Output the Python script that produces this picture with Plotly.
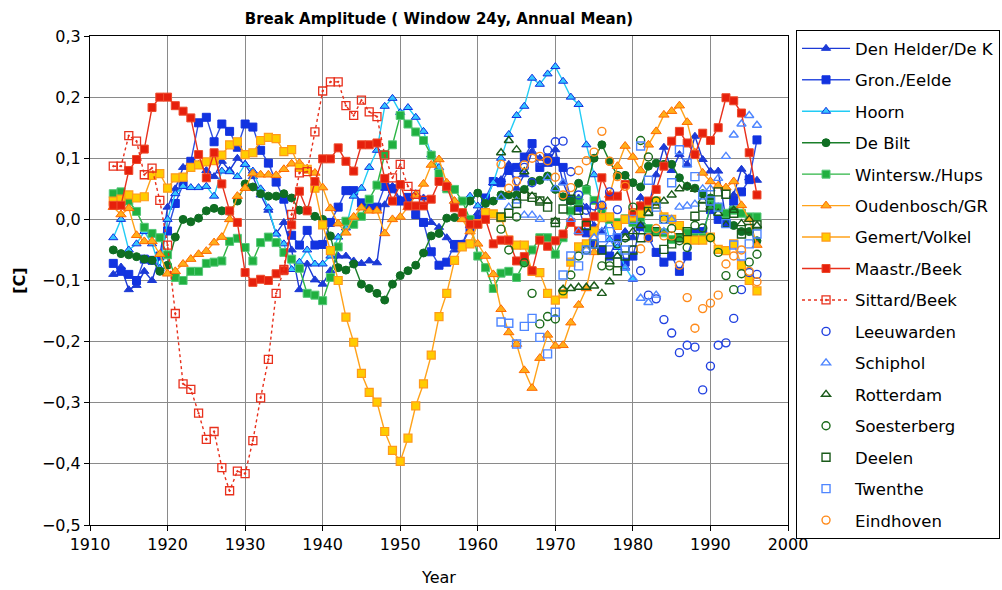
import plotly.graph_objects as go

# ---------------- data ----------------
den_helder_start = 1913
den_helder = [
    -0.09, -0.078, -0.115, -0.108, -0.085, -0.1, -0.06,
    0.02, 0.05, 0.085, 0.093, 0.09, 0.08, 0.07, 0.095, 0.08, 0.1,
    0.09, 0.07, 0.04, 0.015, -0.023, -0.005, -0.05, -0.115, -0.073, -0.099,
    -0.106, -0.084, -0.06, -0.06, -0.068, -0.072, -0.068, -0.071, 0.024, 0.054,
    0.033, 0.035, 0.042, 0.035, -0.005, -0.013, -0.03, -0.05, -0.04, -0.01,
    0.01, 0.03, 0.06, 0.065, 0.09, 0.051, 0.073, 0.111, 0.1, 0.09,
    0.114, 0.06, 0.03, 0.035, 0.02, -0.01, -0.02, 0.0, -0.03, -0.02,
    -0.03, 0.036, 0.02, 0.073, 0.118, 0.08, 0.106, 0.09, 0.136, 0.098,
    0.079, 0.079, 0.0, 0.04, 0.082, 0.068, 0.064,
]

gron_start = 1913
gron = [
    -0.072, -0.085, -0.09, -0.1, -0.065, -0.067, -0.06,
    -0.019, 0.026, 0.057, 0.095, 0.158, 0.167, 0.127, 0.156, 0.144, 0.118,
    0.156, 0.151, 0.113, 0.092, 0.061, 0.033, -0.026, -0.042, -0.018, -0.042,
    -0.041, -0.005, 0.02, 0.047, 0.047, 0.027, 0.019, 0.02, 0.054, 0.05,
    0.03, 0.036, 0.008, -0.005, -0.053, -0.075, -0.07, -0.041, -0.041, -0.015,
    0.0, 0.035, 0.062, 0.06, 0.08, 0.085, 0.102, 0.124, 0.085, 0.1,
    0.095, 0.085, 0.031, 0.02, -0.022, -0.04, -0.05, -0.06, -0.03, -0.07,
    -0.06, -0.012, -0.03, -0.054, -0.07, -0.06, -0.085, -0.06, -0.022, -0.02,
    0.016, 0.0, -0.005, 0.03, 0.045, 0.065, 0.13,
]

hoorn_start = 1913
hoorn = [
    -0.03, 0.0, -0.05, -0.04, -0.02, -0.04, -0.08,
    0.0, 0.042, 0.054, 0.052, 0.052, 0.054, 0.038, 0.079, 0.078, 0.07,
    0.09, 0.079, 0.05, 0.019, -0.024, -0.04, -0.082, -0.07, -0.05, -0.073,
    -0.073, -0.06, -0.029, -0.014, 0.038, 0.051, 0.085, 0.113, 0.185, 0.198,
    0.175, 0.183, 0.167, 0.144, 0.106, 0.085, 0.05, 0.03, 0.03, 0.038,
    0.022, 0.03, 0.06, 0.1, 0.139, 0.17, 0.185, 0.231, 0.221, 0.238,
    0.25, 0.226, 0.2, 0.188, 0.122, 0.073, 0.02, -0.033, -0.046, -0.078,
    -0.098,
]

de_bilt_start = 1913
de_bilt = [
    -0.05, -0.056, -0.058, -0.061, -0.065, -0.067, -0.085,
    -0.075, -0.029, 0.0, -0.004, 0.002, 0.014, 0.018, 0.014, 0.013, 0.03,
    0.058, 0.053, 0.042, 0.038, 0.038, 0.042, 0.035, 0.015, 0.015, 0.005,
    0.0, -0.027, -0.079, -0.083, -0.073, -0.106, -0.113, -0.121, -0.132, -0.106,
    -0.092, -0.084, -0.075, -0.055, -0.027, -0.023, 0.002, 0.003, 0.01, 0.03,
    0.043, 0.026, 0.03, 0.04, 0.04, 0.04, 0.049, 0.062, 0.064, 0.071,
    0.049, 0.037, 0.03, 0.059, 0.05, 0.1, 0.122, 0.095, 0.072, 0.072,
    0.06, 0.053, 0.087, 0.092, 0.09, 0.09, 0.068, 0.054, 0.051, 0.042,
    0.035, 0.02, 0.005, -0.01, -0.02, -0.02, -0.035,
]

wintersw_start = 1913
wintersw = [
    0.042, 0.045, 0.03, 0.013, -0.013, -0.023, -0.03,
    -0.058, -0.095, -0.1, -0.085, -0.085, -0.072, -0.07, -0.068, -0.036, -0.031,
    -0.046, -0.068, -0.038, -0.029, -0.038, -0.054, -0.065, -0.08, -0.121, -0.124,
    -0.133, -0.095, -0.045, -0.003, -0.008, 0.005, 0.033, 0.056, 0.106, 0.122,
    0.17, 0.156, 0.143, 0.129, 0.105, 0.075, 0.05, 0.049, 0.03, 0.0,
    -0.06, -0.079, -0.113, -0.088, -0.085, -0.095, -0.07, -0.05, -0.03, -0.03,
    -0.057, -0.03, 0.014, 0.03, 0.048, 0.031, 0.01, 0.0, -0.005, 0.001,
    -0.005, 0.003, -0.015, -0.02, -0.022, -0.033, -0.03, -0.022, -0.03, -0.03,
    0.024, 0.019, 0.01, 0.015, 0.01, 0.004, 0.004,
]

oudenbosch_start = 1913
oudenbosch = [
    0.02, 0.008, 0.018, -0.026, -0.036, -0.036, -0.057,
    -0.089, -0.085, -0.073, -0.065, -0.057, -0.052, -0.038, -0.029, 0.0, 0.038,
    0.051, 0.075, 0.073, 0.073, 0.072, 0.082, 0.091, 0.092, 0.083, 0.076,
    0.052, 0.018, -0.007, -0.022, 0.004, 0.019, 0.014, 0.014, -0.023, 0.0,
    0.004, 0.02, 0.04, 0.058, 0.089, 0.098, 0.06, 0.03, 0.0, -0.02,
    -0.04, -0.06, -0.09, -0.147, -0.185, -0.204, -0.247, -0.276, -0.227, -0.189,
    -0.207, -0.206, -0.169, -0.14, -0.113, -0.054, 0.022, 0.04, 0.087, 0.12,
    0.102, 0.08, 0.122, 0.144, 0.171, 0.177, 0.186, 0.159, 0.109, 0.076,
    0.062, 0.055, 0.052, 0.062, 0.023, 0.0, -0.042,
]

gemert_start = 1913
gemert = [
    0.03, 0.033, 0.04, 0.035, 0.037, 0.072, 0.075,
    0.051, 0.068, 0.069, 0.085, 0.089, 0.094, 0.096, 0.105, 0.122, 0.127,
    0.106, 0.109, 0.129, 0.134, 0.132, 0.111, 0.114, 0.085, 0.082, 0.051,
    -0.009, -0.051, -0.1, -0.16, -0.201, -0.252, -0.283, -0.299, -0.347, -0.378,
    -0.396, -0.358, -0.305, -0.269, -0.222, -0.159, -0.121, -0.067, -0.045, -0.04,
    -0.007, 0.011, 0.009, 0.003, -0.034, -0.042, -0.042, -0.085, -0.087, -0.121,
    -0.132, -0.122, -0.07, -0.045, -0.04, -0.019, 0.003, 0.004, -0.01, 0.0,
    0.004, 0.01, 0.02, 0.03, 0.004, 0.0, -0.01, -0.033, -0.034, -0.034,
    -0.029, -0.049, -0.051, -0.04, -0.075, -0.1, -0.117,
]

maastr_start = 1913
maastr = [
    0.023, 0.023, 0.08, 0.098, 0.115, 0.183, 0.2,
    0.2, 0.186, 0.177, 0.166, 0.106, 0.068, 0.109, 0.058, 0.014, -0.005,
    -0.087, -0.103, -0.098, -0.1, -0.089, -0.084, -0.009, 0.046, 0.014, 0.062,
    0.099, 0.099, 0.117, 0.095, 0.079, 0.122, 0.122, 0.125, 0.067, 0.03,
    0.057, 0.022, 0.022, 0.022, 0.033, 0.062, 0.054, 0.019, 0.011, -0.008,
    -0.008, 0.0, -0.04, -0.034, -0.034, -0.068, -0.061, -0.084, -0.034, -0.044,
    -0.035, -0.024, -0.005, -0.019, -0.005, 0.005, 0.068, 0.038, 0.038, 0.057,
    0.011, 0.022, 0.03, 0.049, 0.087, 0.128, 0.144, 0.125, 0.106, 0.141,
    0.129, 0.15, 0.199, 0.194, 0.174, 0.109, 0.04,
]

sittard_start = 1913
sittard = [
    0.087, 0.087, 0.137, 0.128, 0.073, 0.084, 0.031,
    -0.042, -0.154, -0.269, -0.278, -0.317, -0.36, -0.347, -0.406, -0.444, -0.412,
    -0.416, -0.362, -0.292, -0.229, -0.121, -0.082, 0.008, 0.076, 0.078, 0.143,
    0.21, 0.225, 0.225, 0.186, 0.17, 0.195, 0.176, 0.168, 0.105, 0.068,
    0.09, 0.054, 0.041, 0.031,
]

leeuwarden_start = 1965
leeuwarden = [
    0.075, 0.085, 0.06, 0.095, 0.113,
    0.127, 0.128, 0.078, 0.04, 0.015, 0.022, 0.023, 0.045, 0.016, -0.03,
    -0.05, -0.084, -0.124, -0.13, -0.164, -0.186, -0.218, -0.206, -0.209, -0.279,
    -0.24, -0.206, -0.202, -0.162, -0.115, -0.087, -0.09,
]

schiphol_start = 1963
schiphol = [
    0.036, 0.02, 0.03, 0.007, 0.007, 0.0, 0.068,
    0.05, 0.06, 0.0, -0.02, -0.05, -0.03, -0.02, -0.04, -0.06, -0.08,
    -0.097, -0.129, -0.136, -0.124, -0.02, 0.0, 0.02, 0.022, 0.025, 0.05,
    0.05, 0.067, 0.103, 0.138, 0.156, 0.17, 0.154,
]

rotterdam_start = 1963
rotterdam = [
    0.109, 0.129, 0.114, 0.078, 0.038, 0.03, 0.03,
    -0.003, -0.114, -0.113, -0.111, -0.111, -0.109, -0.121, -0.102, -0.06, -0.03,
    -0.02, -0.01, 0.01, 0.022, 0.03, 0.04, 0.05, 0.054, 0.049, 0.031,
    0.02, 0.01, -0.009, 0.015, -0.007, 0.0, -0.01,
]

soesterberg_start = 1963
soesterberg = [
    -0.016, -0.05, 0.004, -0.071, -0.121, -0.171, -0.159,
    -0.163, -0.117, -0.091, -0.06, -0.05, -0.04, -0.076, -0.076, -0.04, -0.03,
    0.02, 0.129, 0.102, 0.03, 0.0, -0.015, -0.035, -0.046, -0.01, -0.014,
    -0.03, -0.054, -0.092, -0.115, -0.089, -0.07, -0.057,
]

deelen_start = 1963
deelen = [
    0.004, 0.01, 0.026, 0.038, 0.036, 0.03, 0.02,
    -0.005, 0.017, 0.033, 0.015, -0.01, -0.04, -0.05, -0.07, -0.084, -0.06,
    -0.05, -0.03, 0.013, -0.02, -0.049, -0.04, -0.03, -0.02, 0.005, 0.02,
    0.03, 0.045, 0.041, 0.01, -0.024, -0.015, -0.009,
]

twenthe_start = 1963
twenthe = [
    -0.168, -0.17, -0.204, -0.175, -0.162, -0.193, -0.22,
    -0.152, -0.091, -0.06, -0.076, -0.05, -0.04, -0.03, -0.02, -0.03, -0.05,
    0.0, 0.12, 0.064, 0.02, 0.0, 0.06, 0.114, 0.092, 0.07, 0.04,
    0.03, 0.02, -0.007, -0.042, -0.06, -0.04, -0.024,
]

eindhoven_start = 1963
eindhoven = [
    0.09, 0.051, 0.062, 0.089, 0.1, 0.103, 0.096,
    0.069, 0.04, 0.052, 0.08, 0.096, 0.11, 0.144, 0.095, 0.07, 0.054,
    0.01, -0.048, -0.03, -0.015, -0.027, -0.027, -0.075, -0.128, -0.178, -0.146,
    -0.137, -0.124, -0.073, -0.06, -0.05, -0.085, -0.102,
]

x_ticks = [1910, 1920, 1930, 1940, 1950, 1960, 1970, 1980, 1990, 2000]
y_ticks = [-0.5, -0.4, -0.3, -0.2, -0.1, 0.0, 0.1, 0.2, 0.3]

# ---------------- styles ----------------
FONT = "DejaVu Sans"

line_series = [
    ("Den Helder/De K", den_helder_start, den_helder, "#1c3ad6", "solid",
     dict(symbol="triangle-up", size=8, color="#1c3ad6", line=dict(color="#1c3ad6", width=1))),
    ("Gron./Eelde", gron_start, gron, "#2f4fe0", "solid",
     dict(symbol="square", size=8, color="#1233e0", line=dict(color="#1233e0", width=1))),
    ("Hoorn", hoorn_start, hoorn, "#22ccf5", "solid",
     dict(symbol="triangle-up", size=8, color="#35c6ff", line=dict(color="#1030e0", width=1))),
    ("De Bilt", de_bilt_start, de_bilt, "#1a7f2a", "solid",
     dict(symbol="circle", size=8, color="#0f6e22", line=dict(color="#0f6e22", width=1))),
    ("Wintersw./Hups", wintersw_start, wintersw, "#2cb544", "solid",
     dict(symbol="square", size=8, color="#20b040", line=dict(color="#55c878", width=1))),
    ("Oudenbosch/GR", oudenbosch_start, oudenbosch, "#ffa21a", "solid",
     dict(symbol="triangle-up", size=9, color="#ffae1a", line=dict(color="#ff6a00", width=1))),
    ("Gemert/Volkel", gemert_start, gemert, "#ffa21a", "solid",
     dict(symbol="square", size=8, color="#ffcc00", line=dict(color="#ff9a1a", width=1.2))),
    ("Maastr./Beek", maastr_start, maastr, "#e8301c", "solid",
     dict(symbol="square", size=8, color="#e6200c", line=dict(color="#ee4a2a", width=1))),
    ("Sittard/Beek", sittard_start, sittard, "#e8301c", "dot",
     dict(symbol="square-open-dot", size=8, color="#e8301c", line=dict(color="#e8301c", width=1.3))),
]

point_series = [
    ("Leeuwarden", leeuwarden_start, leeuwarden, "circle-open", "#2040e0"),
    ("Schiphol", schiphol_start, schiphol, "triangle-up-open", "#4f86ff"),
    ("Rotterdam", rotterdam_start, rotterdam, "triangle-up-open", "#1a5a1a"),
    ("Soesterberg", soesterberg_start, soesterberg, "circle-open", "#1a6a1a"),
    ("Deelen", deelen_start, deelen, "square-open", "#1a5a1a"),
    ("Twenthe", twenthe_start, twenthe, "square-open", "#4f86ff"),
    ("Eindhoven", eindhoven_start, eindhoven, "circle-open", "#ff8a1a"),
]

fig = go.Figure()

for i, (name, start, vals, lcolor, dash, marker) in enumerate(line_series):
    fig.add_trace(go.Scatter(
        x=list(range(start, start + len(vals))), y=vals,
        mode="lines+markers", name=name, legendgroup=f"g{i}",
        line=dict(color=lcolor, width=1.4, dash=dash),
        marker=marker,
    ))

for j, (name, start, vals, sym, color) in enumerate(point_series):
    fig.add_trace(go.Scatter(
        x=list(range(start, start + len(vals))), y=vals,
        mode="markers", name=name, legendgroup=f"p{j}",
        marker=dict(symbol=sym, size=8, color=color, line=dict(color=color, width=1.4)),
    ))

fig.update_layout(
    width=1002, height=590,
    margin=dict(l=90, r=214, t=36, b=65, autoexpand=False),
    paper_bgcolor="white", plot_bgcolor="white",
    separators=",.",
    font=dict(family=FONT, size=16, color="black"),
    title=dict(text="<b>Break Amplitude ( Window 24y, Annual Mean)</b>",
               x=(90 + 698 / 2) / 1002, xanchor="center", y=0.968, yanchor="middle",
               font=dict(family=FONT, size=15, color="black")),
    showlegend=True,
    legend=dict(x=1.0115, xanchor="left", y=1.012, yanchor="top",
                bordercolor="black", borderwidth=1, bgcolor="white",
                font=dict(family=FONT, size=16.5, color="black"),
                tracegroupgap=7, itemwidth=48, maxheight=560),
)

fig.update_xaxes(
    range=[1910, 2000], tickvals=x_ticks, ticktext=[str(v) for v in x_ticks],
    showgrid=True, gridcolor="#8a8a8a", gridwidth=1,
    showline=True, linecolor="black", linewidth=1, mirror=True,
    ticks="outside", ticklen=5, tickcolor="black",
    zeroline=False, automargin=False,
    title=dict(text="Year", font=dict(family=FONT, size=16), standoff=18),
    tickfont=dict(family=FONT, size=16),
)
fig.update_yaxes(
    range=[-0.5, 0.3], tickvals=y_ticks, tickformat=".1f",
    showgrid=True, gridcolor="#8a8a8a", gridwidth=1,
    showline=True, linecolor="black", linewidth=1, mirror=True,
    ticks="outside", ticklen=5, tickcolor="black",
    zeroline=False, automargin=False,
    title=dict(text="<b>[C]</b>", font=dict(family=FONT, size=16), standoff=12),
    tickfont=dict(family=FONT, size=16),
)

fig.write_html("out.html", config={"displayModeBar": False},
               post_script="document.body.style.margin='0';document.body.style.padding='0';")
